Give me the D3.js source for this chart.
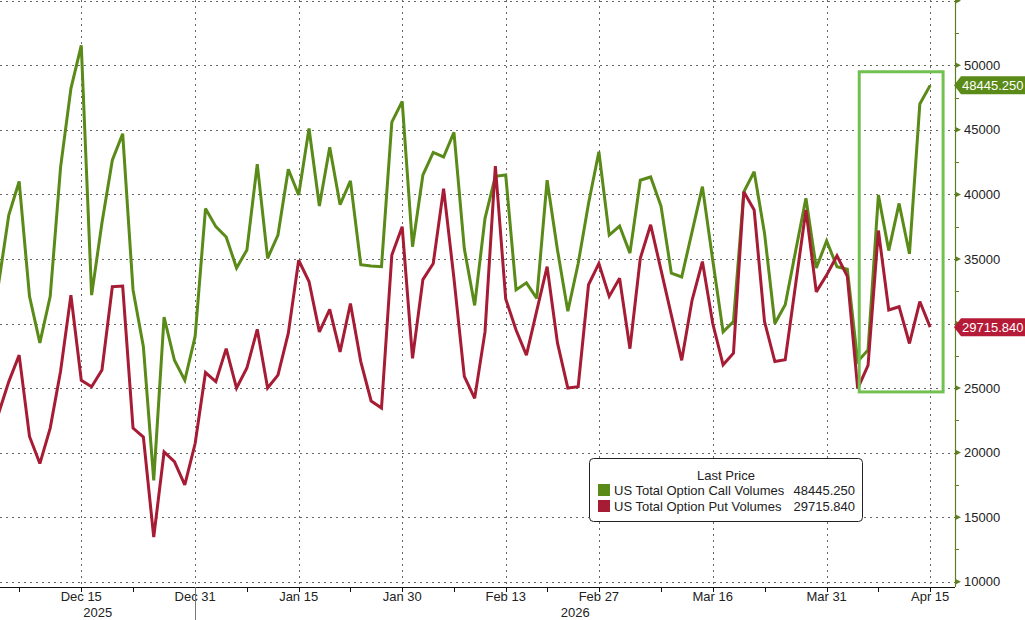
<!DOCTYPE html>
<html>
<head>
<meta charset="utf-8">
<script src="https://cdn.jsdelivr.net/npm/d3@7"></script>
<style>
body { margin: 0; background: #fff; }
svg { display: block; font-family: "Liberation Sans", Arial, sans-serif; }
</style>
</head>
<body>
<svg width="1025" height="620"></svg>
<script>
"use strict"

// trading days from Dec 3 2025 to Apr 15 2026, market holidays skipped
let firstDay = "2025-12-03",
    lastDay = "2026-04-15",
    holidays = ["2025-12-25", "2026-01-01", "2026-01-19", "2026-02-16", "2026-04-03"]

let callVolumes = [
  33000, 38400, 41000, 32100, 28500, 32100, 42100, 48200, 51550, 32200,
  37800, 42650, 44700, 32600, 28200, 17850, 30500, 27150, 25600, 29000,
  38900, 37500, 36700, 34300, 35700, 42350, 35050, 36850, 41950, 39950,
  45100, 39100, 43650, 39200, 41050, 34550, 34450, 34400, 45600, 47200,
  35950, 41500, 43250, 42900, 44800, 35800, 31400, 38150, 41400, 41500,
  32600, 33150, 31950, 41100, 35700, 30950, 34650, 39300, 43300, 36850,
  37550, 35450, 41100, 41350, 39100, 33900, 33600, 37100, 40600, 34900,
  29350, 30150, 40200, 41750, 37000, 30000, 31450, 35600, 39700, 34300,
  36400, 34400, 34200, 27050, 27950, 39950, 35650, 39300, 35400, 47000,
  48445.25
]

let putVolumes = [
  23000, 25500, 27550, 21250, 19150, 21900, 26300, 32200, 25600, 25100,
  26400, 32850, 32900, 21900, 21200, 13450, 20050, 19300, 17500, 20700,
  26200, 25500, 28050, 25000, 26550, 29550, 25000, 26000, 29250, 34900,
  33250, 29350, 31100, 27800, 31550, 27050, 24000, 23450, 35300, 37500,
  27300, 33400, 34650, 40450, 33500, 25900, 24200, 29350, 42200, 31900,
  29500, 27550, 31000, 34400, 28500, 25000, 25100, 33000, 34650, 32100,
  33500, 28050, 35050, 37650, 34150, 30650, 27150, 31800, 34800, 30000,
  26800, 27700, 40200, 38800, 30150, 27050, 27200, 33000, 38800, 32450,
  33750, 35250, 33650, 24950, 26750, 37200, 31050, 31300, 28450, 31700,
  29715.84
]

let majorTicks = ["2025-12-15", "2025-12-31", "2026-01-15", "2026-01-30", "2026-02-13",
                  "2026-02-27", "2026-03-16", "2026-03-31", "2026-04-15"]
let minorTicks = ["2025-12-05", "2025-12-22", "2026-01-08", "2026-01-23", "2026-02-06",
                  "2026-02-20", "2026-03-09", "2026-03-23", "2026-04-08"]
let yearBreak = "2025-12-31"
let yTicks = [10000, 15000, 20000, 25000, 30000, 35000, 40000, 45000, 50000, 55000]
let yMinorTicks = [12500, 17500, 22500, 27500, 32500, 37500, 42500, 47500, 52500]

let seriesNames = ["US Total Option Call Volumes", "US Total Option Put Volumes"],
    lastValues = ["48445.250", "29715.840"]

// highlighted window (trading day index / volume units)
let highlight = {from: 83.15, to: 91.25, top: 49500, bottom: 24700}

let green = "#5a8a18",
    red = "#a61c35"

let parse = d3.timeParse("%Y-%m-%d"),
    fmtKey = d3.timeFormat("%Y-%m-%d"),
    fmtTick = d3.timeFormat("%b %d")

let dates = d3.timeDay.range(parse(firstDay), d3.timeDay.offset(parse(lastDay), 1))
  .filter(d => d.getDay() !== 0 && d.getDay() !== 6 && !holidays.includes(fmtKey(d)))
let indexOf = s => dates.findIndex(d => fmtKey(d) === s)

let svg = d3.select("svg"),
    W = 955,
    H = 587

let x = d3.scaleLinear().domain([0.15, 92.4]).range([0, W])
let y = d3.scaleLinear().domain([10000, 50000]).range([581.7, 65.3])

svg.append("clipPath").attr("id", "plot")
  .append("rect").attr("x", 0).attr("y", 0).attr("width", W).attr("height", H)

// grid
let grid = svg.append("g")
  .attr("stroke", "#666")
  .attr("stroke-width", 1)
  .attr("stroke-dasharray", "2,4")

grid.selectAll(".hgrid")
  .data(yTicks)
  .enter().append("line")
    .attr("x1", 0).attr("x2", W)
    .attr("y1", d => Math.round(y(d)) + 0.5)
    .attr("y2", d => Math.round(y(d)) + 0.5)

grid.selectAll(".vgrid")
  .data(majorTicks)
  .enter().append("line")
    .attr("x1", d => Math.round(x(indexOf(d))) + 0.5)
    .attr("x2", d => Math.round(x(indexOf(d))) + 0.5)
    .attr("y1", 0).attr("y2", H)

// series
let line = d3.line()
  .x((d, i) => x(i))
  .y(d => y(d))

let lines = svg.append("g").attr("clip-path", "url(#plot)")

lines.append("path")
  .datum(callVolumes)
  .attr("d", line)
  .attr("fill", "none")
  .attr("stroke", green)
  .attr("stroke-width", 3)
  .attr("stroke-linejoin", "miter")
  .attr("stroke-miterlimit", 3)

lines.append("path")
  .datum(putVolumes)
  .attr("d", line)
  .attr("fill", "none")
  .attr("stroke", red)
  .attr("stroke-width", 3)
  .attr("stroke-linejoin", "miter")
  .attr("stroke-miterlimit", 3)

// highlight box
svg.append("rect")
  .attr("x", x(highlight.from))
  .attr("y", y(highlight.top))
  .attr("width", x(highlight.to) - x(highlight.from))
  .attr("height", y(highlight.bottom) - y(highlight.top))
  .attr("fill", "none")
  .attr("stroke", "#72c150")
  .attr("stroke-width", 3)

// x axis
let xAxis = svg.append("g")
xAxis.append("line")
  .attr("x1", 0).attr("x2", W)
  .attr("y1", H + 0.5).attr("y2", H + 0.5)
  .attr("stroke", "#111")

xAxis.selectAll(".tick")
  .data(majorTicks.concat(minorTicks))
  .enter().append("line")
    .attr("x1", d => Math.round(x(indexOf(d))) + 0.5)
    .attr("x2", d => Math.round(x(indexOf(d))) + 0.5)
    .attr("y1", H).attr("y2", H + 5)
    .attr("stroke", "#111")

xAxis.selectAll(".label")
  .data(majorTicks)
  .enter().append("text")
    .attr("x", d => x(indexOf(d)))
    .attr("y", 601)
    .attr("text-anchor", "middle")
    .attr("font-size", "13px")
    .attr("fill", "#222")
    .text(d => fmtTick(parse(d)))

let xb = Math.round(x(indexOf(yearBreak))) + 0.5
xAxis.append("line")
  .attr("x1", xb).attr("x2", xb)
  .attr("y1", H).attr("y2", 620)
  .attr("stroke", "#777")

xAxis.selectAll(".year")
  .data([["2025", 0, xb], ["2026", xb, W]])
  .enter().append("text")
    .attr("x", d => (d[1] + d[2]) / 2)
    .attr("y", 617)
    .attr("text-anchor", "middle")
    .attr("font-size", "13px")
    .attr("fill", "#222")
    .text(d => d[0])

// last value tags (drawn over the axis labels they cover)
let tagData = [[callVolumes[callVolumes.length - 1], lastValues[0], green],
               [putVolumes[putVolumes.length - 1], lastValues[1], "#b51a37"]]

// y axis (right)
let yAxis = svg.append("g")
yAxis.append("line")
  .attr("x1", W + 0.5).attr("x2", W + 0.5)
  .attr("y1", 0).attr("y2", H)
  .attr("stroke", "#5d7f1e")
  .attr("stroke-width", 1.2)

yAxis.selectAll(".arrow")
  .data(yTicks)
  .enter().append("path")
    .attr("d", d => "M" + W + "," + (y(d) - 3) + "L" + (W + 6) + "," + y(d) + "L" + W + "," + (y(d) + 3) + "Z")
    .attr("fill", "#5d7f1e")

yAxis.selectAll(".minor")
  .data(yMinorTicks)
  .enter().append("line")
    .attr("x1", W).attr("x2", W + 4)
    .attr("y1", d => Math.round(y(d)) + 0.5)
    .attr("y2", d => Math.round(y(d)) + 0.5)
    .attr("stroke", "#5d7f1e")

yAxis.selectAll(".label")
  .data(yTicks.filter(d => d < 55000 && tagData.every(t => Math.abs(y(d) - y(t[0])) > 12)))
  .enter().append("text")
    .attr("x", 964)
    .attr("y", d => y(d))
    .attr("dy", "0.35em")
    .attr("font-size", "13px")
    .attr("fill", "#222")
    .text(d => d)

let tags = svg.selectAll(".tag")
  .data(tagData)
  .enter().append("g")

tags.append("path")
  .attr("d", d => {
    let c = y(d[0])
    return "M" + (W - 1) + "," + c + "L" + (W + 6) + "," + (c - 9) + "L1025," + (c - 9) +
           "L1025," + (c + 9) + "L" + (W + 6) + "," + (c + 9) + "Z"
  })
  .attr("fill", d => d[2])

tags.append("text")
  .attr("x", 962)
  .attr("y", d => y(d[0]))
  .attr("dy", "0.36em")
  .attr("font-size", "13px")
  .attr("fill", "#fff")
  .text(d => d[1])

// legend
let legend = svg.append("g")
legend.append("rect")
  .attr("x", 589.5).attr("y", 458.5)
  .attr("width", 273).attr("height", 63)
  .attr("rx", 4)
  .attr("fill", "#fff")
  .attr("stroke", "#222")

legend.append("text")
  .attr("x", 726).attr("y", 480)
  .attr("text-anchor", "middle")
  .attr("font-size", "13px")
  .attr("fill", "#222")
  .text("Last Price")

let rows = legend.selectAll(".row")
  .data(seriesNames)
  .enter().append("g")
    .attr("transform", (d, i) => "translate(0," + (i * 16) + ")")

rows.append("rect")
  .attr("x", 598).attr("y", 484)
  .attr("width", 12).attr("height", 12)
  .attr("fill", (d, i) => i ? red : green)

rows.append("text")
  .attr("x", 614).attr("y", 495)
  .attr("font-size", "13px")
  .attr("fill", "#222")
  .text(d => d)

rows.append("text")
  .attr("x", 855).attr("y", 495)
  .attr("text-anchor", "end")
  .attr("font-size", "13px")
  .attr("fill", "#222")
  .text((d, i) => lastValues[i])
</script>
</body>
</html>
